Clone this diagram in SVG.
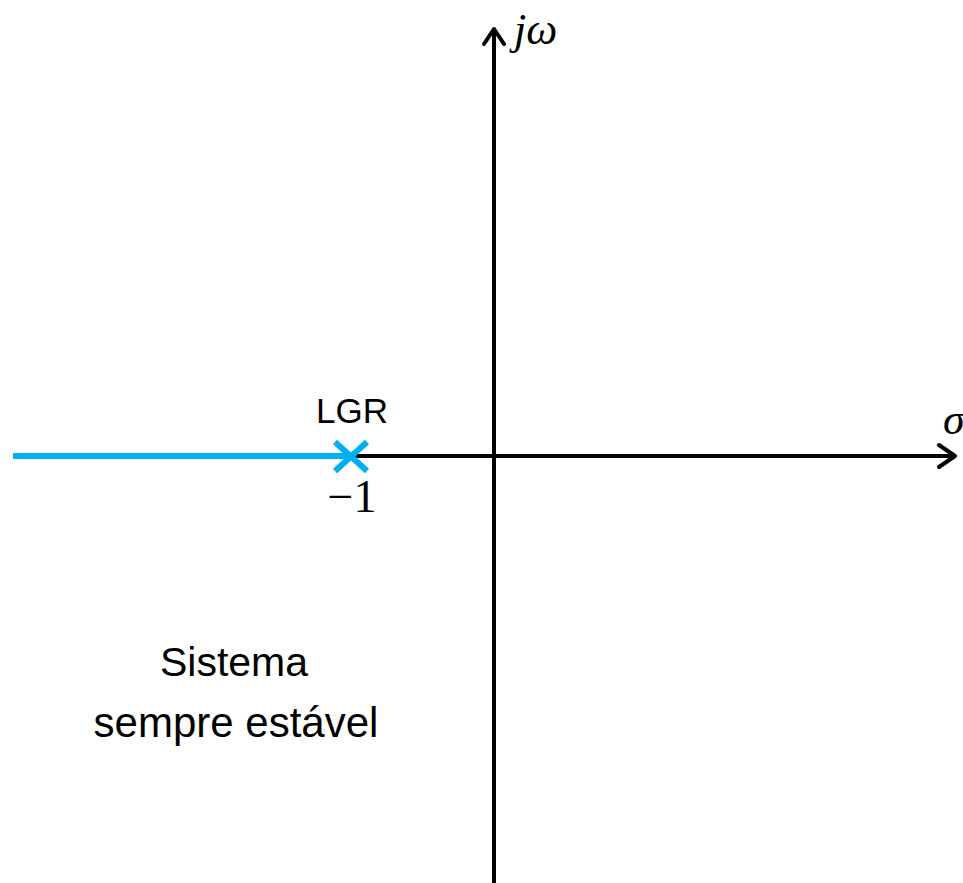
<svg xmlns="http://www.w3.org/2000/svg" width="963" height="883" viewBox="0 0 963 883">
<style>
.ax{stroke:#000;stroke-width:4;fill:none}
.head{stroke:#000;stroke-width:4;fill:none;stroke-linecap:round;stroke-linejoin:round}
.lgr{stroke:#00B0F0;stroke-width:6;fill:none}
.math{font-family:"Liberation Serif","DejaVu Serif",serif;font-style:italic;fill:#000}
.lbl{font-family:"Liberation Sans",Arial,sans-serif;fill:#000}
</style>
<rect width="963" height="883" fill="#fff"/>
<g id="connectors">
<line class="ax" x1="494" y1="30" x2="494" y2="883"/>
<polyline class="head" points="484,44 494,29 504,44"/>
<line class="ax" x1="350" y1="456" x2="954" y2="456"/>
<polyline class="head" points="939,445 955,456 939,467"/>
<line class="lgr" x1="13" y1="456" x2="350" y2="456"/>
</g>
<g id="pole">
<line class="lgr" x1="335" y1="442" x2="367" y2="471"/>
<line class="lgr" x1="335" y1="471" x2="367" y2="442"/>
</g>
<g id="labels">
<text class="math" x="514" y="44" font-size="44">jω</text>
<text class="math" x="943" y="434" font-size="44">σ</text>
<text class="lbl" x="352" y="423" font-size="35" text-anchor="middle">LGR</text>
<text x="352" y="512" font-size="46" text-anchor="middle" font-family="Liberation Serif, DejaVu Serif, serif">−1</text>
<text class="lbl" x="234" y="676" font-size="41" text-anchor="middle">Sistema</text>
<text class="lbl" x="236" y="737" font-size="42" text-anchor="middle">sempre estável</text>
</g>
</svg>
